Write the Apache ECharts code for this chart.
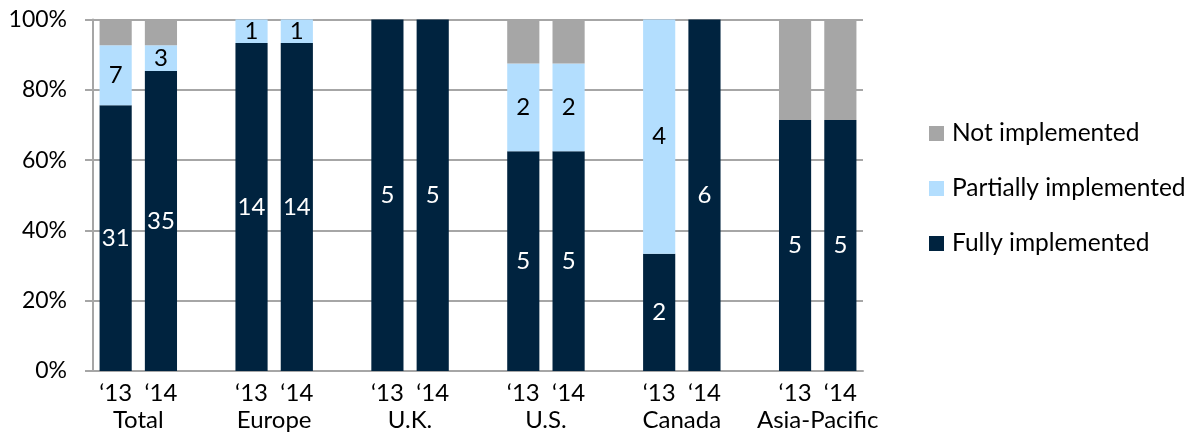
<!DOCTYPE html>
<html>
<head>
<meta charset="utf-8">
<script src="https://cdn.jsdelivr.net/npm/echarts@6/dist/echarts.min.js"></script>
<style>
html,body{margin:0;padding:0;background:#fff;}
#chart{width:1190px;height:432px;}
</style>
</head>
<body>
<div id="chart"></div>
<script>
const groups = ['Total', 'Europe', 'U.K.', 'U.S.', 'Canada', 'Asia-Pacific'];
const years = ['\u201813', '\u201814'];
const fully13 = [31, 14, 5, 5, 2, 5];
const fully14 = [35, 14, 5, 5, 6, 5];
const partial13 = [7, 1, 0, 2, 4, 0];
const partial14 = [3, 1, 0, 2, 0, 0];
const not13 = [3, 0, 0, 1, 0, 2];
const not14 = [3, 0, 0, 1, 0, 2];
const yTicks = [0, 20, 40, 60, 80, 100];

const FONT = 'Lato';
const slotLabels = [];
const groupLabels = [''];
const fullyData = [], partialData = [], notData = [];
groups.forEach((g, i) => {
  const sets = [[fully13[i], partial13[i], not13[i]], [fully14[i], partial14[i], not14[i]]];
  sets.forEach((s, k) => {
    const tot = s[0] + s[1] + s[2];
    slotLabels.push(years[k]);
    fullyData.push({ value: s[0] / tot * 100, count: s[0] });
    partialData.push({ value: s[1] / tot * 100, count: s[1] });
    notData.push({ value: s[2] / tot * 100, count: s[2] });
  });
  groupLabels.push(g, '');
  if (i < groups.length - 1) {
    slotLabels.push('');
    fullyData.push('-'); partialData.push('-'); notData.push('-');
    groupLabels.push('');
  }
});

const labelFmt = p => (p.data && p.data.count ? String(p.data.count) : '');
const gray = '#a6a6a6';

const chart = echarts.init(document.getElementById('chart'));
chart.setOption({
  animation: false,
  grid: { left: 93, right: 327, top: 19.5, bottom: 61 },
  legend: {
    orient: 'vertical', left: 929, top: 121, padding: 0,
    data: ['Not implemented', 'Partially implemented', 'Fully implemented'],
    icon: 'rect', itemWidth: 15, itemHeight: 15, itemGap: 30,
    textStyle: { fontFamily: FONT, fontSize: 24.5, color: '#000', padding: [0, 0, 0, 3] }
  },
  xAxis: [
    {
      type: 'category', data: slotLabels,
      axisLine: { lineStyle: { color: gray, width: 2 } },
      axisTick: { show: false },
      axisLabel: { interval: 0, margin: 10, fontFamily: FONT, fontSize: 24, color: '#000' }
    },
    {
      type: 'category', data: groupLabels, boundaryGap: false, position: 'bottom', offset: 27,
      axisLine: { show: false }, axisTick: { show: false }, splitLine: { show: false },
      axisLabel: { interval: 0, margin: 10, fontFamily: FONT, fontSize: 24, color: '#000' }
    }
  ],
  yAxis: {
    type: 'value', min: yTicks[0], max: yTicks[yTicks.length - 1], interval: 20,
    axisLine: { show: true, lineStyle: { color: gray, width: 2 } },
    axisTick: { show: true, length: 8, lineStyle: { color: gray, width: 2 } },
    splitLine: { lineStyle: { color: gray, width: 2 } },
    axisLabel: { formatter: '{value}%', margin: 26, fontFamily: FONT, fontSize: 23, color: '#000' }
  },
  series: [
    {
      name: 'Fully implemented', type: 'bar', stack: 'a', data: fullyData, barCategoryGap: '29%',
      itemStyle: { color: '#00233f' },
      label: { show: true, position: 'inside', formatter: labelFmt, color: '#fff', fontFamily: FONT, fontSize: 24 }
    },
    {
      name: 'Partially implemented', type: 'bar', stack: 'a', data: partialData,
      itemStyle: { color: '#b3defe' },
      label: { show: true, position: 'inside', formatter: labelFmt, color: '#000', fontFamily: FONT, fontSize: 24 }
    },
    {
      name: 'Not implemented', type: 'bar', stack: 'a', data: notData,
      itemStyle: { color: '#a6a6a6' },
      label: { show: false }
    }
  ]
});
</script>
</body>
</html>
